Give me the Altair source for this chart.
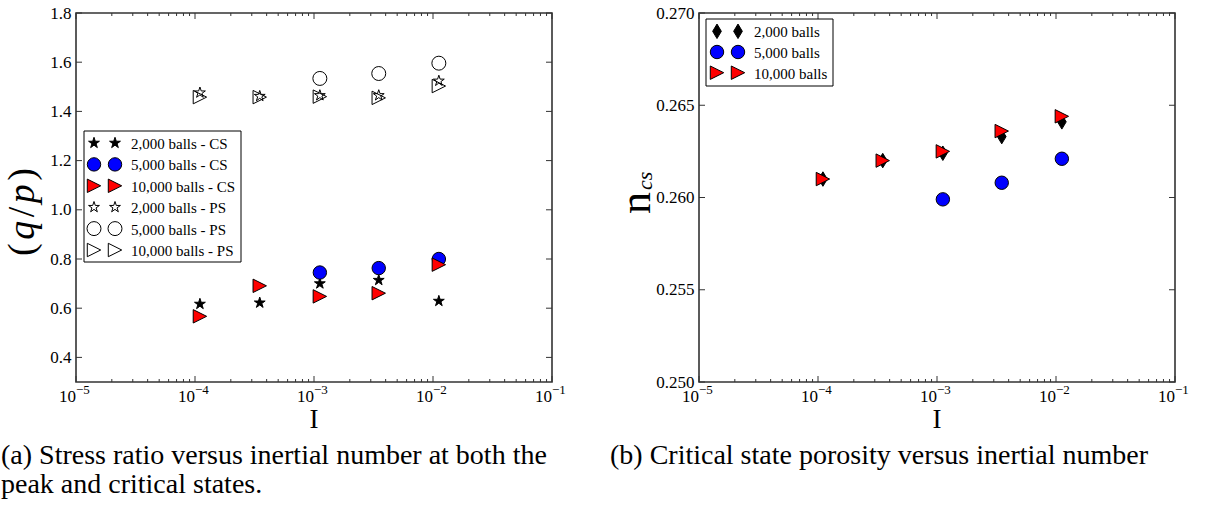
import math
import altair as alt
import pandas as pd

# ---------------- data ----------------
I_vals = [1.1e-4, 3.5e-4, 1.12e-3, 3.5e-3, 1.12e-2]

cs_2000 = [0.617, 0.622, 0.700, 0.714, 0.629]
cs_5000 = [None, None, 0.745, 0.763, 0.800]
cs_10000 = [0.567, 0.691, 0.648, 0.661, 0.777]
ps_2000 = [1.476, 1.462, 1.465, 1.465, 1.524]
ps_5000 = [None, None, 1.534, 1.554, 1.596]
ps_10000 = [1.458, 1.458, 1.460, 1.455, 1.503]

n_2000 = [0.2610, 0.2620, 0.2624, 0.2633, 0.2641]
n_5000 = [None, None, 0.2599, 0.2608, 0.2621]
n_10000 = [0.2610, 0.2620, 0.2625, 0.2636, 0.2644]

left_series = ["2,000 balls - CS", "5,000 balls - CS", "10,000 balls - CS",
               "2,000 balls - PS", "5,000 balls - PS", "10,000 balls - PS"]
right_series = ["2,000 balls", "5,000 balls", "10,000 balls"]

left_yticks = [0.4, 0.6, 0.8, 1.0, 1.2, 1.4, 1.6, 1.8]
right_yticks = [0.250, 0.255, 0.260, 0.265, 0.270]
x_decades = [1e-5, 1e-4, 1e-3, 1e-2, 1e-1]
x_exponents = ["\u22125", "\u22124", "\u22123", "\u22122", "\u22121"]
x_minor = [m * 10.0 ** k for k in range(-5, -1) for m in range(2, 10)]

caption_a = ["(a) Stress ratio versus inertial number at both the",
             "peak and critical states."]
caption_b = ["(b) Critical state porosity versus inertial number"]

# y-axis title of panel (a), written as pieces: (text, italic)
qp_pieces = [("(", False), ("q", True), ("/", False), ("p", True), (")", False)]

# ---------------- marker shapes ----------------
def star_path():
    pts = []
    for i in range(10):
        r = 1.0 if i % 2 == 0 else 0.382
        a = -math.pi / 2 + i * math.pi / 5
        pts.append((r * math.cos(a), r * math.sin(a)))
    return "M" + "L".join(f"{x:.3f},{y:.3f}" for x, y in pts) + "Z"

STAR = star_path()
TRI = "M1,0L-1,1L-1,-1Z"
DIAMOND = "M0,-1L0.6,0L0,1L-0.6,0Z"

left_shapes = [STAR, "circle", TRI, STAR, "circle", TRI]
left_fills = ["black", "#0000ff", "#ff0000", "transparent", "transparent", "transparent"]
left_sizes = [130, 180, 180, 130, 195, 180]
left_values = [cs_2000, cs_5000, cs_10000, ps_2000, ps_5000, ps_10000]

right_shapes = [DIAMOND, "circle", TRI]
right_fills = ["black", "#0000ff", "#ff0000"]
right_sizes = [210, 180, 180]
right_values = [n_2000, n_5000, n_10000]

FONT = "Liberation Serif"
W, H = 476, 369
FRAME = "#333333"
CAP_SIZE = 28


def build_panel(series, values, shapes, fills, sizes, ydom, yticks, yfmt,
                leg_box, leg_y0, leg_dy, ytitle_layers, captions, cap_x):
    rows = []
    for si, (name, vals) in enumerate(zip(series, values)):
        for pi, (iv, v) in enumerate(zip(I_vals, vals)):
            if v is None:
                continue
            rows.append({"series": name, "I": iv, "val": v, "shape": shapes[si],
                         "fill": fills[si], "size": sizes[si], "ord": si * 10 + pi})
    df = pd.DataFrame(rows)

    xs = alt.Scale(type="log", domain=[1e-5, 1e-1], nice=False)
    ys = alt.Scale(domain=ydom, nice=False, zero=False)
    yaxis = alt.Axis(values=yticks, format=yfmt, title=None, ticks=False, domain=False,
                     grid=False, labelFont=FONT, labelFontSize=17, labelColor="black",
                     labelPadding=5)

    pts = alt.Chart(df).mark_point(filled=True, stroke="black", strokeWidth=1, opacity=1).encode(
        x=alt.X("I:Q", scale=xs, axis=None),
        y=alt.Y("val:Q", scale=ys, axis=yaxis),
        shape=alt.Shape("shape:N", scale=None),
        fill=alt.Fill("fill:N", scale=None),
        size=alt.Size("size:Q", scale=None),
        order=alt.Order("ord:Q"),
    )

    ydf = pd.DataFrame({"val": yticks})
    ytl = alt.Chart(ydf).mark_rule(color=FRAME, strokeWidth=1).encode(
        y=alt.Y("val:Q", scale=ys, axis=yaxis), x=alt.value(0), x2=alt.value(6))
    ytr = alt.Chart(ydf).mark_rule(color=FRAME, strokeWidth=1).encode(
        y=alt.Y("val:Q", scale=ys, axis=yaxis), x=alt.value(W - 6), x2=alt.value(W))

    mdf = pd.DataFrame({"I": x_decades})
    ndf = pd.DataFrame({"I": x_minor})
    xmb = alt.Chart(mdf).mark_rule(color=FRAME, strokeWidth=1).encode(
        x=alt.X("I:Q", scale=xs, axis=None), y=alt.value(H - 6), y2=alt.value(H))
    xmt = alt.Chart(mdf).mark_rule(color=FRAME, strokeWidth=1).encode(
        x=alt.X("I:Q", scale=xs, axis=None), y=alt.value(0), y2=alt.value(6))
    xnb = alt.Chart(ndf).mark_rule(color=FRAME, strokeWidth=1).encode(
        x=alt.X("I:Q", scale=xs, axis=None), y=alt.value(H - 3), y2=alt.value(H))
    xnt = alt.Chart(ndf).mark_rule(color=FRAME, strokeWidth=1).encode(
        x=alt.X("I:Q", scale=xs, axis=None), y=alt.value(0), y2=alt.value(3))

    ldf = pd.DataFrame({"I": x_decades, "e": x_exponents})
    xl10 = alt.Chart(ldf).mark_text(font=FONT, fontSize=17, align="right",
                                    baseline="alphabetic", color="black").encode(
        x=alt.X("I:Q", scale=xs, axis=None), y=alt.value(H + 20), text=alt.value("10"))
    xlex = alt.Chart(ldf).mark_text(font=FONT, fontSize=13, align="left",
                                    baseline="alphabetic", color="black").encode(
        x=alt.X("I:Q", scale=xs, axis=None), y=alt.value(H + 12), text="e:N")

    one = pd.DataFrame({"a": [0]})
    xtitle = alt.Chart(one).mark_text(font=FONT, fontSize=27, align="center",
                                      baseline="alphabetic", color="black").encode(
        x=alt.value(W / 2), y=alt.value(415), text=alt.value("I"))

    # legend
    bx0, bx1, by0, by1 = leg_box
    box = alt.Chart(one).mark_rect(fill="white", stroke="black", strokeWidth=1).encode(
        x=alt.value(bx0), x2=alt.value(bx1), y=alt.value(by0), y2=alt.value(by1))
    lrows = []
    for si, name in enumerate(series):
        for lx in (18, 39):
            lrows.append({"label": name, "lx": lx, "ly": leg_y0 + si * leg_dy,
                          "shape": shapes[si], "fill": fills[si], "size": sizes[si]})
    ldf2 = pd.DataFrame(lrows)
    lpts = alt.Chart(ldf2).mark_point(filled=True, stroke="black", strokeWidth=1, opacity=1).encode(
        x=alt.X("lx:Q", scale=None), y=alt.Y("ly:Q", scale=None),
        shape=alt.Shape("shape:N", scale=None), fill=alt.Fill("fill:N", scale=None),
        size=alt.Size("size:Q", scale=None))
    ltxt = alt.Chart(ldf2[ldf2["lx"] == 18]).mark_text(font=FONT, fontSize=15, align="left",
                                                       baseline="middle", color="black", dy=1).encode(
        x=alt.value(55), y=alt.Y("ly:Q", scale=None), text="label:N")

    # captions
    cdf = pd.DataFrame({"t": captions, "cy": [451 + 29 * i for i in range(len(captions))]})
    cap = alt.Chart(cdf).mark_text(font=FONT, fontSize=CAP_SIZE, align="left",
                                   baseline="alphabetic", color="black").encode(
        x=alt.value(cap_x), y=alt.Y("cy:Q", scale=None), text="t:N")

    pin = alt.Chart(one).mark_rule(strokeOpacity=0).encode(
        x=alt.value(-75), x2=alt.value(-74), y=alt.value(-12), y2=alt.value(-11))

    layers = [pin, ytl, ytr, xmb, xmt, xnb, xnt, pts, box, lpts, ltxt,
              xl10, xlex, xtitle, cap] + ytitle_layers
    return alt.layer(*layers).properties(width=W, height=H)


one = pd.DataFrame({"a": [0]})

# (q/p) title built from pieces, stacked upward (rotated text)
QP_SIZE = 38
widths = {"(": 0.333, "q": 0.5, "/": 0.278, "p": 0.5, ")": 0.333}
gap = 3.5
total = sum(widths[c] * QP_SIZE for c, _ in qp_pieces) + gap * (len(qp_pieces) - 1)
ystart = 199 + total / 2
qp_rows = []
cur = ystart
for c, it in qp_pieces:
    qp_rows.append({"c": c, "py": cur, "st": "italic" if it else "normal"})
    cur -= widths[c] * QP_SIZE + gap
qp_df = pd.DataFrame(qp_rows)
qp_title = alt.layer(*[
    alt.Chart(qp_df[qp_df["st"] == st]).mark_text(
        font=FONT, fontSize=QP_SIZE, fontStyle=st, angle=270, align="left",
        baseline="alphabetic", color="black").encode(
        x=alt.value(-42), y=alt.Y("py:Q", scale=None), text="c:N")
    for st in ("normal", "italic")
])

n_title = alt.Chart(one).mark_text(font=FONT, fontSize=44, angle=270, align="left",
                                   baseline="alphabetic", color="black").encode(
    x=alt.value(-49), y=alt.value(201), text=alt.value("n"))
cs_title = alt.Chart(one).mark_text(font=FONT, fontSize=22, fontStyle="italic", angle=270,
                                    align="left", baseline="alphabetic", color="black").encode(
    x=alt.value(-47), y=alt.value(177), text=alt.value("cs"))

left = build_panel(left_series, left_values, left_shapes, left_fills, left_sizes,
                   [0.3, 1.8], left_yticks, ".1f",
                   (8, 165, 118, 249), 130, 21.4, [qp_title], caption_a, -75)
right = build_panel(right_series, right_values, right_shapes, right_fills, right_sizes,
                    [0.25, 0.27], right_yticks, ".3f",
                    (7, 134, 6, 73), 18.3, 20.7, [n_title, cs_title], caption_b, -89)

chart = alt.hconcat(left, right, spacing=147, bounds="flush").properties(
    padding=0
).configure_view(stroke=FRAME, strokeWidth=1.6).configure_axis(
    grid=False, labelFont=FONT, labelFontSize=17, labelColor="black"
)

chart.save("out.html", embed_options={"renderer": "svg", "actions": False})
